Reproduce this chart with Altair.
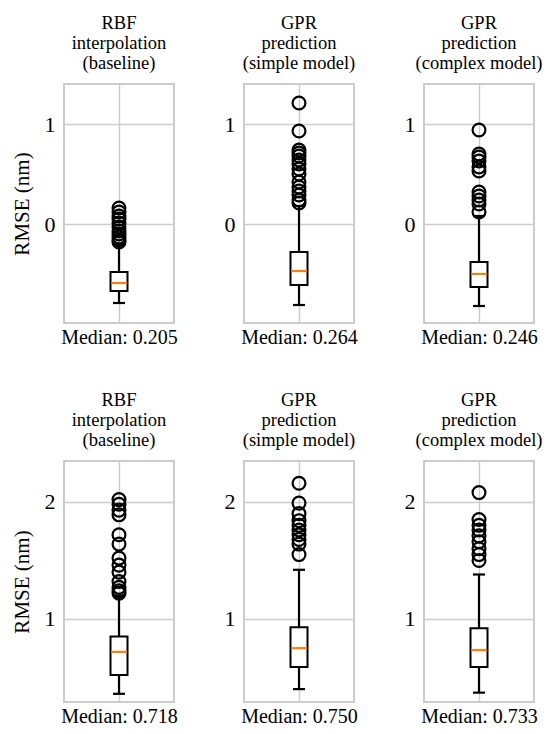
import altair as alt
import pandas as pd

FONT = "Liberation Serif"

titles = [
    ["RBF", "interpolation", " (baseline)"],
    ["GPR", "prediction", "(simple model)"],
    ["GPR", "prediction", "(complex model)"],
]

# top row (values as displayed on the axis)
top_lo = [-0.79, -0.81, -0.82]
top_q1 = [-0.67, -0.61, -0.63]
top_med = [-0.59, -0.47, -0.50]
top_q3 = [-0.48, -0.28, -0.38]
top_hi = [-0.20, 0.18, 0.08]
top_out = [
    [0.16, 0.12, 0.08, 0.05, 0.01, -0.03, -0.07, -0.10, -0.13, -0.16, -0.18],
    [1.21, 0.93, 0.74, 0.71, 0.68, 0.64, 0.60, 0.55, 0.50, 0.42, 0.37, 0.33, 0.29, 0.24, 0.21],
    [0.94, 0.70, 0.67, 0.63, 0.57, 0.53, 0.32, 0.28, 0.24, 0.20, 0.12],
]
top_medtext = ["0.205", "0.264", "0.246"]
top_domain = [-0.99, 1.40]
top_ticks = [0, 1]

# bottom row
bot_lo = [0.36, 0.40, 0.37]
bot_q1 = [0.52, 0.59, 0.59]
bot_med = [0.718, 0.750, 0.733]
bot_q3 = [0.85, 0.93, 0.92]
bot_hi = [1.20, 1.42, 1.38]
bot_out = [
    [2.02, 1.98, 1.93, 1.89, 1.72, 1.64, 1.52, 1.46, 1.40, 1.32, 1.27, 1.24, 1.22],
    [2.16, 1.99, 1.90, 1.84, 1.80, 1.76, 1.72, 1.68, 1.64, 1.55],
    [2.08, 1.85, 1.80, 1.76, 1.71, 1.66, 1.60, 1.55, 1.50],
]
bot_medtext = ["0.718", "0.750", "0.733"]
bot_domain = [0.29, 2.35]
bot_ticks = [1, 2]


def panel(i, lo, q1, med, q3, hi, outs, medtext, domain, ticks, height, first):
    stats = pd.DataFrame({"x": [1], "lo": [lo], "q1": [q1], "med": [med], "q3": [q3], "hi": [hi]})
    od = pd.DataFrame({"x": [1] * len(outs), "v": outs})
    xs = alt.Scale(domain=[0.5, 1.5])
    ys = alt.Scale(domain=domain, nice=False, zero=False)
    xax = alt.Axis(values=[1], labels=False, ticks=False, domain=False, grid=True,
                   title=f"Median: {medtext}")
    yax = alt.Axis(values=ticks, ticks=False, domain=False, grid=True, format="d",
                   title="RMSE (nm)" if first else "")
    X = alt.X("x:Q", scale=xs, axis=xax)

    def Y(f):
        return alt.Y(f, scale=ys, axis=yax)

    whisk_lo = alt.Chart(stats).mark_rule(color="black", strokeWidth=2.2).encode(
        x=X, y=Y("lo:Q"), y2="q1:Q")
    whisk_hi = alt.Chart(stats).mark_rule(color="black", strokeWidth=2.2).encode(
        x=X, y=Y("q3:Q"), y2="hi:Q")
    cap_lo = alt.Chart(stats).mark_tick(orient="horizontal", size=12, thickness=2.2, color="black", opacity=1).encode(
        x=X, y=Y("lo:Q"))
    cap_hi = alt.Chart(stats).mark_tick(orient="horizontal", size=12, thickness=2.2, color="black", opacity=1).encode(
        x=X, y=Y("hi:Q"))
    box = alt.Chart(stats).mark_bar(size=17, fill="white", stroke="black", strokeWidth=2).encode(
        x=X, y=Y("q1:Q"), y2="q3:Q")
    median = alt.Chart(stats).mark_tick(orient="horizontal", size=16, thickness=2.2, color="#ff7f0e", opacity=1).encode(
        x=X, y=Y("med:Q"))
    pts = alt.Chart(od).mark_point(shape="circle", filled=False, size=165, color="black",
                                   strokeWidth=2.2, opacity=1).encode(
        x=X, y=Y("v:Q"))
    return alt.layer(whisk_lo, whisk_hi, cap_lo, cap_hi, box, median, pts).properties(
        width=110, height=height,
        title=alt.TitleParams(titles[i], lineHeight=20, offset=12, anchor="middle"))


panels = [
    panel(i, top_lo[i], top_q1[i], top_med[i], top_q3[i], top_hi[i], top_out[i],
          top_medtext[i], top_domain, top_ticks, 239, i == 0) for i in range(3)
] + [
    panel(i, bot_lo[i], bot_q1[i], bot_med[i], bot_q3[i], bot_hi[i], bot_out[i],
          bot_medtext[i], bot_domain, bot_ticks, 241, i == 0) for i in range(3)
]

chart = alt.concat(*panels, columns=3, spacing={"row": 138, "column": 70}, bounds="flush").properties(
    padding={"left": 10, "top": 12, "right": 5, "bottom": 5}, background="white"
).configure(
    font=FONT
).configure_view(
    stroke="#cccccc", strokeWidth=2
).configure_axis(
    gridColor="#cccccc", gridWidth=1.5,
    labelFont=FONT, labelFontSize=22, labelColor="black", labelPadding=9,
    titleFont=FONT, titleFontSize=20, titleFontWeight="normal", titleColor="black",
).configure_axisX(
    titlePadding=4
).configure_axisY(
    titleFontSize=21, titlePadding=12
).configure_title(
    font=FONT, fontSize=18.5, fontWeight="normal", color="black"
)

chart.save("out.html", embed_options={"renderer": "svg", "actions": False})
